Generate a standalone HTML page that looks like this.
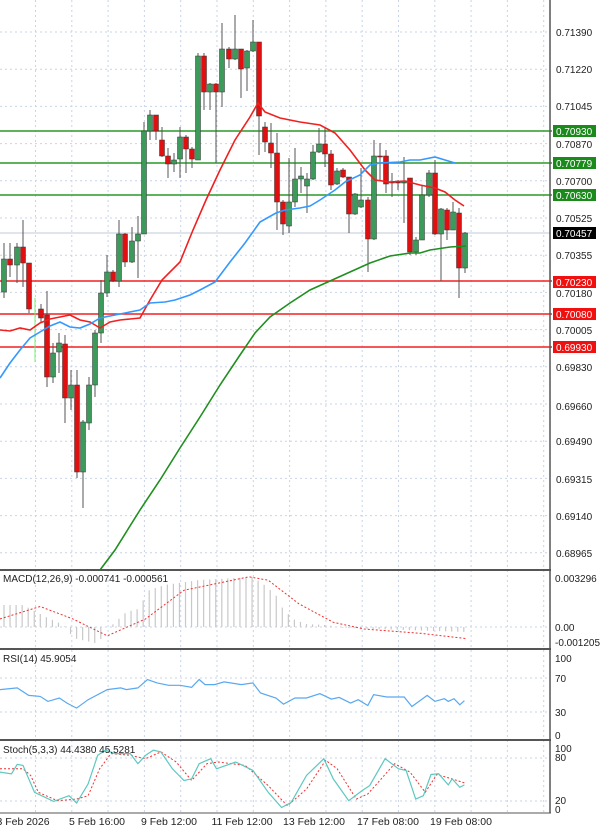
<!DOCTYPE html>
<html><head><meta charset="utf-8"><style>
html,body{margin:0;padding:0;background:#fff;}
svg{display:block;font-family:"Liberation Sans",sans-serif;}
</style></head><body>
<svg id="c" width="600" height="830" viewBox="0 0 600 830" xmlns="http://www.w3.org/2000/svg">
<rect width="600" height="830" fill="#fff"/>
<g id="grid"></g>
<g id="hl"></g>
<g id="main"></g>
<g id="ind"></g>
<line x1="0" y1="570" x2="551" y2="570" stroke="#555" stroke-width="2"/>
<line x1="0" y1="649" x2="551" y2="649" stroke="#555" stroke-width="2"/>
<line x1="0" y1="740" x2="551" y2="740" stroke="#555" stroke-width="2"/>
<line x1="0" y1="813" x2="551" y2="813" stroke="#555" stroke-width="1"/>
<line x1="550" y1="0" x2="550" y2="813" stroke="#555" stroke-width="1.5"/>
<g font-size="10" fill="#222">
<text x="556" y="36">0.71390</text>
<text x="556" y="73">0.71220</text>
<text x="556" y="110">0.71045</text>
<text x="556" y="148">0.70870</text>
<text x="556" y="185">0.70700</text>
<text x="556" y="222">0.70525</text>
<text x="556" y="259">0.70355</text>
<text x="556" y="297">0.70180</text>
<text x="556" y="334">0.70005</text>
<text x="556" y="371">0.69830</text>
<text x="556" y="410">0.69660</text>
<text x="556" y="445">0.69490</text>
<text x="556" y="483">0.69315</text>
<text x="556" y="520">0.69140</text>
<text x="556" y="557">0.68965</text>
</g>
<g font-size="10" fill="#fff">
<rect x="553" y="125" width="43" height="12" fill="#1a8a1a"/><text x="556" y="135">0.70930</text>
<rect x="553" y="157" width="43" height="12" fill="#1a8a1a"/><text x="556" y="167">0.70779</text>
<rect x="553" y="189" width="43" height="12" fill="#1a8a1a"/><text x="556" y="199">0.70630</text>
<rect x="553" y="227" width="43" height="12" fill="#000"/><text x="556" y="237">0.70457</text>
<rect x="553" y="276" width="43" height="12" fill="#f01010"/><text x="556" y="286">0.70230</text>
<rect x="553" y="308" width="43" height="12" fill="#f01010"/><text x="556" y="318">0.70080</text>
<rect x="553" y="341" width="43" height="12" fill="#f01010"/><text x="556" y="351">0.69930</text>
</g>
<g font-size="10" fill="#222">
<text x="3" y="582">MACD(12,26,9) -0.000741 -0.000561</text>
<text x="555" y="582">0.003296</text>
<text x="555" y="631">0.00</text>
<text x="555" y="646">-0.001205</text>
<text x="3" y="662">RSI(14) 45.9054</text>
<text x="555" y="662">100</text>
<text x="555" y="682">70</text>
<text x="555" y="716">30</text>
<text x="555" y="739">0</text>
<text x="3" y="753">Stoch(5,3,3) 44.4380 45.5281</text>
<text x="555" y="752">100</text>
<text x="555" y="761">80</text>
<text x="555" y="804">20</text>
<text x="555" y="813">0</text>
</g>
<g font-size="10.5" fill="#222" text-anchor="middle">
<text x="23" y="825">3 Feb 2026</text>
<text x="97" y="825">5 Feb 16:00</text>
<text x="169" y="825">9 Feb 12:00</text>
<text x="242" y="825">11 Feb 12:00</text>
<text x="314" y="825">13 Feb 12:00</text>
<text x="388" y="825">17 Feb 08:00</text>
<text x="461" y="825">19 Feb 08:00</text>
</g>
</svg>
<script>
const NS="http://www.w3.org/2000/svg";
function el(p,t,a){const e=document.createElementNS(NS,t);for(const k in a)e.setAttribute(k,a[k]);document.getElementById(p).appendChild(e);return e;}
for(let x=35.5;x<550;x+=36.3){el('grid','line',{x1:x,y1:0,x2:x,y2:813,stroke:'#c8d4e8','stroke-dasharray':'2,3','stroke-width':1});}
for(let i=0;i<15;i++){const y=32+i*37.2;el('grid','line',{x1:0,y1:y,x2:550,y2:y,stroke:'#c8d4e8','stroke-dasharray':'2,3'});}
[627].forEach(y=>el('grid','line',{x1:0,y1:y,x2:550,y2:y,stroke:'#c8d4e8','stroke-dasharray':'2,3'}));
[678,712,758,801].forEach(y=>el('grid','line',{x1:0,y1:y,x2:550,y2:y,stroke:'#c8d4e8','stroke-dasharray':'2,3'}));
[[131,'#2a9a2a'],[163,'#2a9a2a'],[195,'#2a9a2a'],[281,'#f02020'],[314,'#f02020'],[347,'#f02020']].forEach(([y,c])=>el('hl','line',{x1:0,y1:y,x2:552,y2:y,stroke:c,'stroke-width':1.6}));
el('hl','line',{x1:0,y1:233,x2:550,y2:233,stroke:'#c0c8d8','stroke-width':1});
const C=[[4,292,259,243,298],[10,259,265,243,277],[17,265,247,243,283],[23,247,263,220,287],[29,263,309,263,313],[41,309,318,304,322],[47,315,377,291,387],[53,377,353,343,383],[59,352,343,333,373],[65,344,398,335,423],[71,398,385,370,410],[77,385,472,370,478],[83,472,422,420,508],[89,423,385,377,430],[95,385,333,330,397],[101,333,293,280,343],[107,293,272,255,297],[113,272,281,270,282],[119,281,234,220,287],[125,234,262,233,267],[132,262,241,227,263],[138,241,234,216,278],[144,234,131,122,234],[150,131,115,110,140],[156,115,131,115,140],[162,140,156,127,157],[168,156,164,148,178],[174,164,160,153,172],[180,159,137,127,178],[186,137,149,135,173],[192,149,159,147,168],[198,160,56,53,160],[204,56,92,53,110],[210,92,84,83,110],[216,84,92,83,163],[222,92,49,23,107],[229,49,59,47,68],[235,59,49,15,60],[241,49,69,49,98],[247,68,51,50,91],[253,51,42,20,52],[259,42,116,42,155],[265,127,142,122,152],[271,143,153,123,168],[277,153,202,133,230],[283,202,224,200,235],[289,226,202,158,233],[295,202,179,148,207],[301,179,176,167,193],[307,186,179,173,213],[313,179,152,145,180],[319,152,144,128,153],[325,144,154,128,167],[331,154,185,150,190],[337,184,171,168,185],[343,170,177,168,178],[349,177,214,177,233],[355,214,194,193,215],[361,207,200,168,208],[368,200,239,197,272],[374,239,156,140,240],[380,156,157,143,180],[386,156,184,150,193],[392,182,183,173,197],[398,182,183,180,190],[404,183,182,157,223],[410,178,252,178,255],[416,252,240,237,255],[422,240,195,185,240],[429,195,173,170,197],[435,173,234,160,235],[441,234,209,208,281],[447,210,230,208,240],[453,230,212,202,230],[459,213,268,208,298],[465,268,233,232,273]];
C.forEach(([x,o,c,h,l])=>{
 el('main','line',{x1:x,y1:h,x2:x,y2:l,stroke:'#555','stroke-width':1});
 const up=c<o;const t=Math.min(o,c),b=Math.max(o,c);
 el('main','rect',{x:x-2.5,y:t,width:5,height:Math.max(1,b-t),fill:up?'#3c9a5a':'#e01010',stroke:'#333','stroke-width':0.5});
});
el('main','line',{x1:35,y1:298,x2:35,y2:362,stroke:'#7de87d','stroke-width':1});
function pl(pts,st,w,dash){el('ind','polyline',{points:pts.map(p=>p.join(',')).join(' '),fill:'none',stroke:st,'stroke-width':w,'stroke-dasharray':dash||''});}
pl([[0,330],[10,331],[20,328],[30,330],[40,323],[50,319],[60,317],[70,315],[80,320],[90,322],[100,328],[110,322],[120,320],[130,319],[140,318],[150,300],[162,280],[180,262],[193,230],[206,200],[220,170],[235,140],[250,117],[258,103],[265,112],[280,118],[300,122],[320,125],[335,133],[350,150],[365,170],[375,180],[390,182],[405,181],[420,185],[435,188],[445,192],[455,200],[464,206]],'#f02020',1.6);
pl([[0,378],[10,363],[20,350],[30,338],[40,332],[50,326],[60,322],[70,327],[80,328],[90,324],[100,318],[120,314],[140,310],[150,303],[165,302],[175,300],[190,295],[200,290],[215,282],[230,262],[245,243],[260,222],[276,213],[285,210],[300,208],[310,206],[320,200],[335,190],[345,182],[360,175],[370,165],[380,163],[400,162],[410,160],[420,160],[435,157],[445,160],[455,163]],'#3399ff',1.6);
pl([[100,570],[115,550],[140,510],[160,480],[180,448],[200,417],[220,385],[240,355],[255,333],[270,317],[290,303],[310,290],[330,281],[350,272],[370,263],[390,256],[410,253],[420,253],[430,250],[450,247],[466,246]],'#1f8f1f',1.6);
const H=[[0,605],[60,605],[120,617],[150,622],[175,628],[190,638],[260,644],[270,628],[290,626],[330,612],[360,609],[390,590],[430,585],[520,580],[660,577],[690,585],[720,595],[740,610],[770,620],[800,624],[850,625],[900,628],[1215,632]];
function hv(xz){for(let i=0;i<H.length-1;i++){if(xz<=H[i+1][0]){const [a,ya]=H[i],[b,yb]=H[i+1];return ya+(yb-ya)*(xz-a)/(b-a);}}return 632;}
for(let x=4;x<=466;x+=6.05){const y=hv(x*2.61);el('ind','line',{x1:x,y1:627,x2:x,y2:y,stroke:'#c8c8c8','stroke-width':1.2});}
const Z=(a)=>a.map(([x,y])=>[ (x/2.61).toFixed(1),(560+y/2.97).toFixed(1)]);
pl(Z([[0,175],[105,138],[190,175],[280,225],[380,175],[480,90],[650,50],[700,60],[780,130],[870,185],[950,205],[1100,218],[1215,233]]),'#f03030',1,'2,2');
pl(Z([[0,385],[45,380],[75,402],[105,405],[125,420],[155,410],[175,425],[200,440],[230,415],[280,385],[315,380],[330,385],[360,380],[385,355],[410,365],[440,372],[470,372],[500,378],[520,355],[535,370],[560,370],[585,362],[630,370],[660,365],[680,395],[720,410],[740,428],[770,410],[800,410],[835,397],[865,413],[885,408],[915,425],[935,415],[960,432],[975,400],[1010,407],[1055,407],[1075,435],[1115,402],[1135,420],[1160,412],[1170,420],[1185,412],[1200,430],[1212,418]]),'#5aa8f0',1.2);
pl(Z([[0,620],[60,620],[80,640],[100,690],[150,715],[200,710],[230,700],[260,620],[290,575],[340,580],[380,590],[420,570],[460,600],[500,655],[540,605],[570,600],[640,610],[700,670],[750,730],[800,680],[850,595],[880,620],[930,710],[960,695],[1030,605],[1070,630],[1110,690],[1140,637],[1180,650],[1212,662]]),'#f03030',1,'2,2');
pl(Z([[0,630],[30,635],[45,607],[60,610],[90,690],[140,717],[180,700],[200,722],[230,665],[255,580],[275,565],[300,575],[340,575],[360,605],[380,580],[400,565],[420,570],[450,620],[480,655],[500,650],[520,605],[550,590],[565,620],[615,600],[660,625],[700,690],[735,735],[760,720],[800,640],[845,590],[870,650],[910,715],[945,685],[965,670],[1005,590],[1040,620],[1060,625],[1085,710],[1105,700],[1125,637],[1145,635],[1170,668],[1180,650],[1200,675],[1212,668]]),'#5cc8c0',1.2);
</script>
</body></html>
